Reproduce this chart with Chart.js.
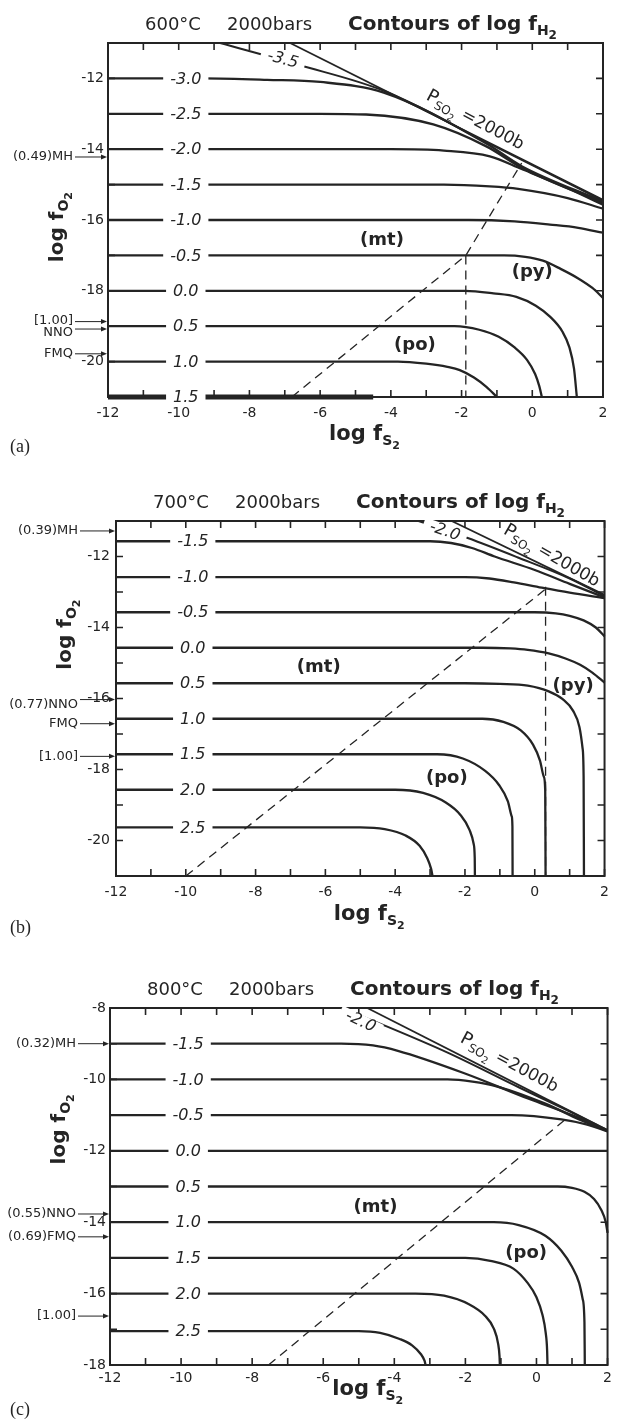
<!DOCTYPE html>
<html>
<head>
<meta charset="utf-8">
<script src="https://cdn.jsdelivr.net/npm/chart.js@4.4.1/dist/chart.umd.min.js"></script>
<style>
html,body{margin:0;padding:0;background:#fff;}
body{width:617px;height:1424px;position:relative;overflow:hidden;}
canvas{position:absolute;left:0;}
</style>
</head>
<body>
<canvas id="pa" width="617" height="475" style="top:0px;width:617px;height:475px"></canvas>
<canvas id="pb" width="617" height="475" style="top:475px;width:617px;height:475px"></canvas>
<canvas id="pc" width="617" height="474" style="top:950px;width:617px;height:474px"></canvas>
<script>
// ---------- axis tick labels ----------
const xTickValues  = [-12, -10, -8, -6, -4, -2, 0, 2];
const yTickValuesA = [-12, -14, -16, -18, -20];
const yTickValuesB = [-12, -14, -16, -18, -20];
const yTickValuesC = [-8, -10, -12, -14, -16, -18];
const panelTemps   = ['600°C', '700°C', '800°C'];
const panelLetters = ['(a)', '(b)', '(c)'];
const regionNamesAB = ['(mt)', '(py)', '(po)'];
const regionNamesC  = ['(mt)', '(po)'];

// ---------- (a) 600°C : contours of log fH2, points [log fS2, log fO2] ----------
const a_m35 = [[-8.83,-11],[-6.6,-11.62],[-4.2,-12.35],[-1.3,-13.8],[2,-15.45]];
const a_m30 = [[-12,-12],[-9.3,-12],[-7.5,-12.04],[-6,-12.1],[-4.2,-12.4],[-1.3,-13.84],[-0.3,-14.48],[2,-15.48]];
const a_m25 = [[-12,-13],[-6,-13],[-4.7,-13.02],[-2.8,-13.3],[-1.3,-13.92],[-0.3,-14.52],[2,-15.52]];
const a_m20 = [[-12,-14],[-4,-14],[-2.5,-14.04],[-1.2,-14.2],[-0.3,-14.56],[1,-15.1],[2,-15.57]];
const a_m15 = [[-12,-15],[-2.5,-15],[-1.2,-15.05],[-0.4,-15.12],[1,-15.38],[2,-15.68]];
const a_m10 = [[-12,-16],[-1.8,-16],[-0.5,-16.04],[0.5,-16.13],[1.3,-16.22],[2,-16.36]];
const a_m05 = [[-12,-17],[-0.8,-17],[-0.2,-17.04],[0.3,-17.15],[0.8,-17.38],[1.3,-17.65],[1.7,-17.92],[2,-18.2]];
const a_p00 = [[-12,-18],[-1.9,-18],[-1.1,-18.07],[-0.45,-18.17],[0.1,-18.42],[0.5,-18.73],[0.85,-19.15],[1.05,-19.6],[1.18,-20.2],[1.26,-21]];
const a_p05 = [[-12,-19],[-2.2,-19],[-1.5,-19.1],[-0.95,-19.3],[-0.5,-19.6],[-0.15,-19.95],[0.08,-20.35],[0.2,-20.7],[0.27,-21]];
const a_p10 = [[-12,-20],[-3.8,-20],[-3.0,-20.06],[-2.4,-20.15],[-2.05,-20.24],[-1.65,-20.45],[-1.29,-20.72],[-1.0,-21]];
const a_p15 = [[-12,-21],[-4.5,-21]];
const a_so2 = [[-6.85,-11],[2,-15.43]];
const a_mtpo = [[-6.8,-21],[-1.88,-17],[-0.3,-14.39]];
const a_popy = [[-1.88,-17],[-1.88,-21]];
const labelsA = ['-3.0','-2.5','-2.0','-1.5','-1.0','-0.5','0.0','0.5','1.0'];
const bufNamesA = ['(0.49)MH','[1.00]','NNO','FMQ'];
const bufLogFO2A = [-14.22,-18.87,-19.08,-19.78];

// ---------- (b) 700°C ----------
const b_m20 = [[-3.33,-11],[-1.92,-11.48],[-0.5,-12.02],[1,-12.62],[2,-13.12]];
const b_m15 = [[-12,-11.57],[-3,-11.57],[-2.4,-11.62],[-1.8,-11.76],[-1.15,-12.0],[0,-12.38],[1,-12.77],[2,-13.15]];
const b_m10 = [[-12,-12.58],[-2,-12.58],[-1.3,-12.62],[-0.6,-12.73],[0.2,-12.88],[1,-13.02],[2,-13.17]];
const b_m05 = [[-12,-13.57],[0,-13.57],[0.6,-13.6],[1.0,-13.67],[1.4,-13.8],[1.75,-14.0],[2,-14.25]];
const b_p00 = [[-12,-14.57],[-1.5,-14.57],[-0.7,-14.59],[-0.2,-14.63],[0.4,-14.73],[0.9,-14.88],[1.3,-15.05],[1.65,-15.27],[2,-15.55]];
const b_p05 = [[-12,-15.57],[-2,-15.57],[-1,-15.59],[-0.2,-15.64],[0.4,-15.8],[0.8,-16.02],[1.1,-16.35],[1.28,-16.8],[1.37,-17.4],[1.4,-18.2],[1.41,-21]];
const b_p10 = [[-12,-16.57],[-1.5,-16.57],[-0.9,-16.66],[-0.4,-16.9],[-0.05,-17.3],[0.15,-17.75],[0.26,-18.2],[0.3,-18.6],[0.31,-21]];
const b_p15 = [[-12,-17.57],[-2.8,-17.57],[-2.06,-17.69],[-1.42,-18.04],[-1.03,-18.43],[-0.77,-18.9],[-0.66,-19.32],[-0.64,-19.6],[-0.635,-21]];
const b_p20 = [[-12,-18.57],[-4,-18.57],[-3.2,-18.66],[-2.55,-18.93],[-2.13,-19.28],[-1.87,-19.7],[-1.75,-20.1],[-1.72,-20.5],[-1.715,-21]];
const b_p25 = [[-12,-19.63],[-5,-19.63],[-4.3,-19.68],[-3.7,-19.86],[-3.3,-20.15],[-3.08,-20.5],[-2.97,-20.8],[-2.93,-21]];
const b_so2 = [[-2.38,-11],[2,-13.08]];
const b_mtpo = [[-10,-21],[0.37,-12.87]];
const b_popy = [[0.31,-12.85],[0.31,-21]];
const labelsB = ['-1.5','-1.0','-0.5','0.0','0.5','1.0','1.5','2.0','2.5'];
const bufNamesB = ['(0.39)MH','(0.77)NNO','FMQ','[1.00]'];
const bufLogFO2B = [-11.28,-16.03,-16.71,-17.63];

// ---------- (c) 800°C ----------
const c_m20 = [[-5.5,-8],[-4.3,-8.48],[-2.5,-9.25],[-0.5,-10.22],[1,-10.93],[2,-11.43]];
const c_m15 = [[-12,-9],[-5.5,-9],[-4.6,-9.05],[-3.9,-9.2],[-2.05,-9.82],[-0.2,-10.55],[1,-11.0],[2,-11.43]];
const c_m10 = [[-12,-10],[-2.5,-10],[-1.8,-10.06],[-1.1,-10.2],[0.25,-10.68],[1.2,-11.12],[2,-11.45]];
const c_m05 = [[-12,-11],[-0.7,-11],[0.7,-11.12],[1.4,-11.26],[2,-11.46]];
const c_p00 = [[-12,-12],[2,-12]];
const c_p05 = [[-12,-13],[0.6,-13],[1.0,-13.04],[1.35,-13.15],[1.62,-13.35],[1.82,-13.65],[1.95,-14.0],[2,-14.3]];
const c_p10 = [[-12,-14],[-1.2,-14],[-0.5,-14.08],[0.25,-14.38],[0.7,-14.8],[1.0,-15.25],[1.2,-15.7],[1.3,-16.15],[1.35,-16.8],[1.36,-18]];
const c_p15 = [[-12,-15],[-2,-15],[-1.3,-15.08],[-0.65,-15.3],[-0.25,-15.7],[0,-16.1],[0.17,-16.6],[0.26,-17.1],[0.3,-17.6],[0.31,-18]];
const c_p20 = [[-12,-16],[-3.4,-16],[-2.6,-16.06],[-1.9,-16.3],[-1.45,-16.62],[-1.2,-16.98],[-1.08,-17.4],[-1.04,-17.75],[-1.03,-18]];
const c_p25 = [[-12,-17.05],[-5,-17.05],[-4.4,-17.1],[-3.85,-17.27],[-3.5,-17.45],[-3.25,-17.7],[-3.15,-17.88],[-3.12,-18]];
const c_so2 = [[-4.76,-8],[2,-11.42]];
const c_mtpo = [[-7.54,-18],[0.9,-11.05]];
const labelsC = ['-1.5','-1.0','-0.5','0.0','0.5','1.0','1.5','2.0','2.5'];
const bufNamesC = ['(0.32)MH','(0.55)NNO','(0.69)FMQ','[1.00]'];
const bufLogFO2C = [-9.0,-13.77,-14.41,-16.63];

// ---------- drawing helpers ----------
const INK = '#242424';
const FAM = '"DejaVu Sans", "Liberation Sans", sans-serif';

function partsWidth(ctx, parts) {
  let w = 0;
  for (const p of parts) { ctx.font = p.f; w += ctx.measureText(p.t).width; }
  return w;
}
function drawParts(ctx, parts, x, y, align) {
  const w = partsWidth(ctx, parts);
  let cx = align === 'center' ? x - w / 2 : (align === 'right' ? x - w : x);
  ctx.textAlign = 'left';
  ctx.textBaseline = 'alphabetic';
  for (const p of parts) {
    ctx.font = p.f;
    ctx.fillText(p.t, cx, y + (p.dy || 0));
    cx += ctx.measureText(p.t).width;
  }
}

function makeChart(cfg) {
  const canvas = document.getElementById(cfg.id);
  const pts = arr => arr.map(p => ({ x: p[0], y: p[1] }));
  const curve = (arr, w) => ({ data: pts(arr), showLine: true, pointRadius: 0, borderColor: INK,
    borderWidth: w, cubicInterpolationMode: 'monotone', fill: false, clip: false });
  const straight = (arr, w, dash) => ({ data: pts(arr), showLine: true, pointRadius: 0, borderColor: INK,
    borderWidth: w, tension: 0, borderDash: dash || [], fill: false, clip: false });

  const datasets = [];
  cfg.contours.forEach(arr => datasets.push(curve(arr, 2.3)));
  cfg.special.forEach(s => datasets.push(curve(s.arr, 2.0)));
  if (cfg.thick) datasets.push(straight(cfg.thick, 5));
  datasets.push(straight(cfg.so2, 1.8));
  cfg.dashed.forEach(arr => datasets.push(straight(arr, 1.3, [9, 6])));

  const deco = {
    id: 'deco',
    afterDatasetsDraw(chart) {
      const ctx = chart.ctx, a = chart.chartArea;
      const X = chart.scales.x, Y = chart.scales.y;
      const px = v => X.getPixelForValue(v), py = v => Y.getPixelForValue(v);
      ctx.save();
      ctx.strokeStyle = INK; ctx.fillStyle = INK;

      // frame
      ctx.lineWidth = 2;
      ctx.strokeRect(a.left, a.top, a.right - a.left, a.bottom - a.top);
      // inward unit ticks on all four sides
      ctx.lineWidth = 1.6;
      ctx.beginPath();
      for (let v = Math.ceil(X.min); v <= X.max; v++) {
        const x = px(v);
        ctx.moveTo(x, a.top); ctx.lineTo(x, a.top + 7);
        ctx.moveTo(x, a.bottom); ctx.lineTo(x, a.bottom - 7);
      }
      for (let v = Math.ceil(Y.min); v <= Y.max; v++) {
        const y = py(v);
        ctx.moveTo(a.left, y); ctx.lineTo(a.left + 7, y);
        ctx.moveTo(a.right, y); ctx.lineTo(a.right - 7, y);
      }
      ctx.stroke();

      // contour value labels, set in a gap of the line
      const gapLabel = (t, x, y, rot) => {
        ctx.save();
        ctx.translate(x, y); ctx.rotate(rot * Math.PI / 180);
        ctx.font = 'italic 16px ' + FAM;
        const w = ctx.measureText(t).width;
        ctx.fillStyle = '#fff';
        ctx.fillRect(-w / 2 - 7, -6, w + 14, 12);
        ctx.fillStyle = INK; ctx.textAlign = 'center'; ctx.textBaseline = 'middle';
        ctx.fillText(t, 0, 1);
        ctx.restore();
      };
      cfg.contours.forEach((arr, i) => {
        if (cfg.labels[i]) gapLabel(cfg.labels[i], px(cfg.labelX), py(arr[0][1]), 0);
      });
      if (cfg.thick) gapLabel(cfg.thickLabel, px(cfg.labelX), py(cfg.thick[0][1]), 0);
      cfg.special.forEach(s => gapLabel(s.t, px(s.x), py(s.y), s.rot));

      // P_SO2 = 2000b
      ctx.save();
      ctx.translate(px(cfg.so2Label.x), py(cfg.so2Label.y));
      ctx.rotate(cfg.so2Label.rot * Math.PI / 180);
      drawParts(ctx, [
        { t: 'P', f: '18px ' + FAM },
        { t: 'SO', f: '12px ' + FAM, dy: 4 },
        { t: '2', f: '10px ' + FAM, dy: 8 },
        { t: ' =2000b', f: '17px ' + FAM }
      ], 0, 6, 'center');
      ctx.restore();

      // phase field names
      ctx.font = 'bold 18px ' + FAM; ctx.textAlign = 'center'; ctx.textBaseline = 'middle';
      cfg.regions.forEach((n, i) => ctx.fillText(n, px(cfg.regionPos[i][0]), py(cfg.regionPos[i][1])));

      // buffer labels with arrows on the left
      ctx.lineWidth = 1;
      cfg.bufNames.forEach((n, i) => {
        const y = py(cfg.bufVals[i]);
        ctx.font = '13px ' + FAM; ctx.textAlign = 'right'; ctx.textBaseline = 'middle';
        ctx.fillText(n, a.left - cfg.bufGap, y + (cfg.bufDy[i] || 0));
        ctx.beginPath(); ctx.moveTo(a.left - cfg.bufGap + 2, y); ctx.lineTo(a.left - 4, y); ctx.stroke();
        ctx.beginPath(); ctx.moveTo(a.left - 1, y); ctx.lineTo(a.left - 7, y - 2.5); ctx.lineTo(a.left - 7, y + 2.5);
        ctx.closePath(); ctx.fill();
      });

      // title
      const ty = a.top - 13;
      ctx.textAlign = 'left'; ctx.textBaseline = 'alphabetic';
      ctx.font = '18px ' + FAM;
      ctx.fillText(cfg.temp, a.left + 37, ty);
      ctx.fillText('2000bars', a.left + 119, ty);
      drawParts(ctx, [
        { t: 'Contours of log f', f: 'bold 20px ' + FAM },
        { t: 'H', f: 'bold 14px ' + FAM, dy: 5 },
        { t: '2', f: 'bold 12px ' + FAM, dy: 9 }
      ], a.left + 240, ty, 'left');

      // x title
      drawParts(ctx, [
        { t: 'log f', f: 'bold 21px ' + FAM },
        { t: 'S', f: 'bold 14px ' + FAM, dy: 5 },
        { t: '2', f: 'bold 11px ' + FAM, dy: 9 }
      ], (a.left + a.right) / 2 + 9, a.bottom + cfg.xTitleDy, 'center');

      // y title
      ctx.save();
      ctx.translate(a.left - 52, py(cfg.yTitleY));
      ctx.rotate(-Math.PI / 2);
      drawParts(ctx, [
        { t: 'log f', f: 'bold 20px ' + FAM },
        { t: 'O', f: 'bold 14px ' + FAM, dy: 5 },
        { t: '2', f: 'bold 11px ' + FAM, dy: 9 }
      ], 0, 7, 'center');
      ctx.restore();

      // panel letter
      ctx.font = '18px "Liberation Serif", "DejaVu Serif", serif';
      ctx.textAlign = 'left'; ctx.textBaseline = 'middle';
      ctx.fillText(cfg.letter, 10, a.bottom + cfg.letterDy);
      ctx.restore();
    }
  };

  new Chart(canvas, {
    type: 'scatter',
    data: { datasets },
    options: {
      responsive: false, animation: false, devicePixelRatio: 1, events: [],
      layout: { padding: { left: 0, right: cfg.padR, top: cfg.padT, bottom: cfg.padB } },
      plugins: { legend: { display: false }, tooltip: { enabled: false }, title: { display: false } },
      scales: {
        x: {
          type: 'linear', min: -12, max: 2,
          grid: { display: false, drawTicks: false }, border: { display: false },
          afterBuildTicks: s => { s.ticks = xTickValues.map(v => ({ value: v })); },
          afterFit: s => { s.height = 30; },
          ticks: { font: { family: FAM, size: 14 }, color: INK, padding: cfg.xPad, maxRotation: 0, autoSkip: false }
        },
        y: {
          type: 'linear', min: cfg.ymin, max: cfg.ymax,
          grid: { display: false, drawTicks: false }, border: { display: false },
          afterBuildTicks: s => { s.ticks = cfg.yTicks.map(v => ({ value: v })); },
          afterFit: s => { s.width = cfg.left; },
          ticks: { font: { family: FAM, size: 14 }, color: INK, padding: cfg.yPad, autoSkip: false }
        }
      }
    },
    plugins: [deco]
  });
}

makeChart({
  id: 'pa', left: 108, padT: 43, padR: 14, padB: 48, xPad: 8, yPad: 4,
  ymin: -21, ymax: -11, yTicks: yTickValuesA,
  contours: [a_m30, a_m25, a_m20, a_m15, a_m10, a_m05, a_p00, a_p05, a_p10], labels: labelsA, labelX: -9.8,
  thick: a_p15, thickLabel: '1.5',
  special: [{ arr: a_m35, t: '-3.5', x: -7.05, y: -11.45, rot: 15 }],
  so2: a_so2, so2Label: { x: -1.6, y: -13.15, rot: 28 },
  dashed: [a_mtpo, a_popy],
  regions: regionNamesAB, regionPos: [[-4.25, -16.58], [0.0, -17.47], [-3.32, -19.53]],
  bufNames: bufNamesA, bufVals: bufLogFO2A, bufDy: [0, -1, 4, 0], bufGap: 35,
  temp: panelTemps[0], xTitleDy: 43, yTitleY: -16.2, letter: panelLetters[0], letterDy: 50
});

makeChart({
  id: 'pb', left: 116, padT: 46, padR: 5, padB: 44, xPad: 8, yPad: 6,
  ymin: -21, ymax: -11, yTicks: yTickValuesB,
  contours: [b_m15, b_m10, b_m05, b_p00, b_p05, b_p10, b_p15, b_p20, b_p25], labels: labelsB, labelX: -9.8,
  thick: null,
  special: [{ arr: b_m20, t: '-2.0', x: -2.57, y: -11.27, rot: 19 }],
  so2: b_so2, so2Label: { x: 0.5, y: -11.95, rot: 30 },
  dashed: [b_mtpo, b_popy],
  regions: regionNamesAB, regionPos: [[-6.19, -15.11], [1.1, -15.67], [-2.52, -18.24]],
  bufNames: bufNamesB, bufVals: bufLogFO2B, bufDy: [0, 5, 0, 0], bufGap: 38,
  temp: panelTemps[1], xTitleDy: 44, yTitleY: -14.2, letter: panelLetters[1], letterDy: 52
});

makeChart({
  id: 'pc', left: 110, padT: 58, padR: 5, padB: 29, xPad: 5, yPad: 4,
  ymin: -18, ymax: -8, yTicks: yTickValuesC,
  contours: [c_m15, c_m10, c_m05, c_p00, c_p05, c_p10, c_p15, c_p20, c_p25], labels: labelsC, labelX: -9.8,
  thick: null,
  special: [{ arr: c_m20, t: '-2.0', x: -4.94, y: -8.36, rot: 25 }],
  so2: c_so2, so2Label: { x: -0.75, y: -9.5, rot: 28 },
  dashed: [c_mtpo],
  regions: regionNamesC, regionPos: [[-4.53, -13.57], [-0.29, -14.86]],
  bufNames: bufNamesC, bufVals: bufLogFO2C, bufDy: [0, 0, 0, 0], bufGap: 34,
  temp: panelTemps[2], xTitleDy: 30, yTitleY: -11.4, letter: panelLetters[2], letterDy: 45
});
</script>
</body>
</html>
